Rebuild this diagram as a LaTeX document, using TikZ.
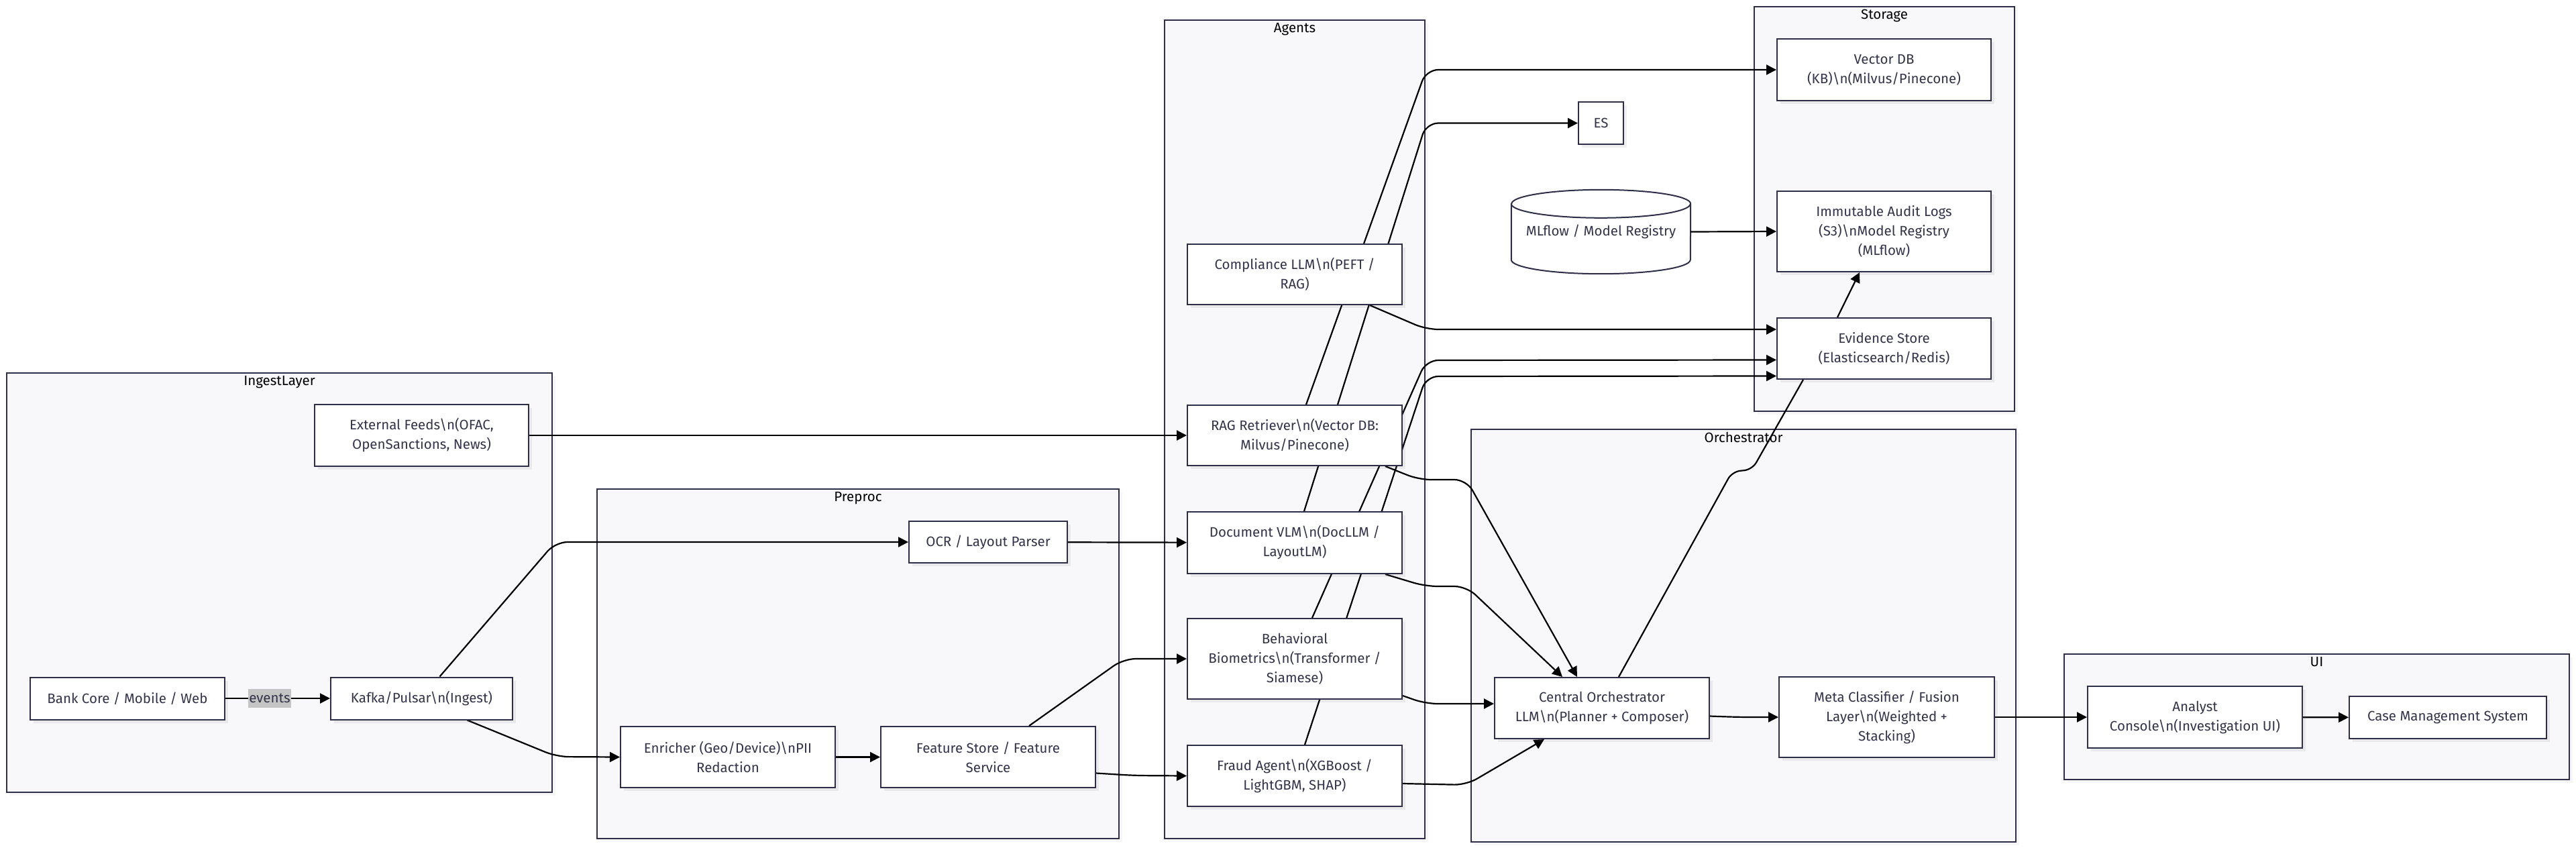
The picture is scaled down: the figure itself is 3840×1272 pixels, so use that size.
\documentclass[tikz,border=0pt]{standalone}
\usepackage{fontspec}
\setmainfont{Fira Sans}
\usetikzlibrary{positioning,arrows.meta,shadows}

\definecolor{navy}{HTML}{2E2E48}
\definecolor{ink}{HTML}{33334A}
\definecolor{clusterbg}{HTML}{F8F8FB}
\definecolor{labelbg}{HTML}{C4C4C4}

\newcommand{\bsn}{\textbackslash n}
\newcommand{\diagfont}{\fontsize{20.5}{29}\selectfont}

\pgfdeclarelayer{clusters}
\pgfdeclarelayer{edges}
\pgfsetlayers{clusters,edges,main}

\begin{document}
\begin{tikzpicture}[x=1pt, y=-1pt,
    % Node styles
    block/.style={rectangle, draw=navy, fill=white, line width=2pt,
                  text=ink, align=center, font=\diagfont, inner sep=2pt,
                  drop shadow={shadow xshift=5pt, shadow yshift=-5pt,
                               fill=black!60, opacity=0.10}},
    cluster/.style={rectangle, draw=navy, fill=clusterbg, line width=2pt,
                    inner sep=0pt,
                    drop shadow={shadow xshift=5pt, shadow yshift=-5pt,
                                 fill=black!60, opacity=0.06}},
    clustertitle/.style={font=\diagfont, text=black, inner sep=0pt},
    arrow/.style={line width=2.2pt, black, rounded corners=18pt,
                  -{Triangle[length=15pt,width=15pt]}},
    link/.style={line width=2.2pt, black, rounded corners=12pt},
    edgelabel/.style={rectangle, fill=labelbg, text=ink, font=\diagfont,
                      inner sep=0pt, minimum width=64pt, minimum height=28pt}
]

\useasboundingbox (0,0) rectangle (3840,1272);

% Clusters
\begin{pgfonlayer}{clusters}
\fill[white] (0,0) rectangle (3840,1272);
\node[cluster, minimum width=813pt, minimum height=625pt] (ingest) at (416.5,868.5) {};
\node[clustertitle, below=5pt of ingest.north] (ingesttitle) {IngestLayer};
\node[cluster, minimum width=778pt, minimum height=521pt] (preproc) at (1279,989.5) {};
\node[clustertitle, below=5pt of preproc.north] (preproctitle) {Preproc};
\node[cluster, minimum width=388pt, minimum height=1220pt] (agents) at (1930,640) {};
\node[clustertitle, below=5pt of agents.north] (agentstitle) {Agents};
\node[cluster, minimum width=388pt, minimum height=603pt] (storage) at (2809,311.5) {};
\node[clustertitle, below=5pt of storage.north] (storagetitle) {Storage};
\node[cluster, minimum width=812pt, minimum height=615pt] (orch) at (2599,947.5) {};
\node[clustertitle, below=5pt of orch.north] (orchtitle) {Orchestrator};
\node[cluster, minimum width=753pt, minimum height=187pt] (ui) at (3453.5,1068.5) {};
\node[clustertitle, below=5pt of ui.north] (uititle) {UI};
\end{pgfonlayer}

% 1. Ingest
\node[block, minimum width=319pt, minimum height=92pt] (ext) at (628.5,649) {
    External Feeds\bsn(OFAC,\\OpenSanctions, News)};
\node[block, minimum width=290pt, minimum height=63pt] (bank) at (190,1041) {
    Bank Core / Mobile / Web};
\node[block, minimum width=271pt, minimum height=63pt] (kafka) at (628.5,1041) {
    Kafka/Pulsar\bsn(Ingest)};

% 2. Preprocessing
\node[block, minimum width=236pt, minimum height=62pt] (ocr) at (1473,808) {
    OCR / Layout Parser};
\node[block, minimum width=320pt, minimum height=91pt] (enr) at (1085,1128.5) {
    Enricher (Geo/Device)\bsn PII\\Redaction};
\node[block, minimum width=320pt, minimum height=91pt] (feat) at (1473,1128.5) {
    Feature Store / Feature\\Service};

% 3. Agents
\node[block, minimum width=320pt, minimum height=90pt] (comp) at (1930,409) {
    Compliance LLM\bsn(PEFT /\\RAG)};
\node[block, minimum width=320pt, minimum height=90pt] (rag) at (1930,649) {
    RAG Retriever\bsn(Vector DB:\\Milvus/Pinecone)};
\node[block, minimum width=320pt, minimum height=92pt] (doc) at (1930,809) {
    Document VLM\bsn(DocLLM /\\LayoutLM)};
\node[block, minimum width=320pt, minimum height=120pt] (beh) at (1930,982) {
    Behavioral\\Biometrics\bsn(Transformer /\\Siamese)};
\node[block, minimum width=320pt, minimum height=91pt] (fraud) at (1930,1156.5) {
    Fraud Agent\bsn(XGBoost /\\LightGBM, SHAP)};

% 4. Storage
\node[block, minimum width=319pt, minimum height=92pt] (vdb) at (2808.5,104) {
    Vector DB\\(KB)\bsn(Milvus/Pinecone)};
\node[block, minimum width=67pt, minimum height=63pt] (es) at (2386.5,183.5) {ES};
\node[minimum width=267pt, minimum height=125pt, inner sep=0pt, text=ink,
      font=\diagfont] (mlflow) at (2386.5,345.5) {\raisebox{-10pt}{MLflow / Model Registry}};
\node[block, minimum width=319pt, minimum height=120pt] (audit) at (2808.5,345) {
    Immutable Audit Logs\\(S3)\bsn Model Registry\\(MLflow)};
\node[block, minimum width=319pt, minimum height=91pt] (evid) at (2808.5,519.5) {
    Evidence Store\\(Elasticsearch/Redis)};

% MLflow cylinder
\begin{pgfonlayer}{edges}
\fill[black!60, opacity=0.08, xshift=5pt, yshift=-5pt]
    ([yshift=-21pt]mlflow.north west) -- ([yshift=21pt]mlflow.south west)
    arc[start angle=180, end angle=360, x radius=133.5pt, y radius=21pt]
    -- ([yshift=-21pt]mlflow.north east)
    arc[start angle=0, end angle=180, x radius=133.5pt, y radius=21pt] -- cycle;
\draw[draw=navy, fill=white, line width=2pt]
    ([yshift=-21pt]mlflow.north west) -- ([yshift=21pt]mlflow.south west)
    arc[start angle=180, end angle=360, x radius=133.5pt, y radius=21pt]
    -- ([yshift=-21pt]mlflow.north east)
    arc[start angle=0, end angle=180, x radius=133.5pt, y radius=21pt] -- cycle;
\draw[draw=navy, line width=2pt] ([yshift=-21pt]mlflow.north west)
    arc[start angle=180, end angle=360, x radius=133.5pt, y radius=21pt];
\end{pgfonlayer}

% 5. Orchestrator
\node[block, minimum width=320pt, minimum height=91pt] (central) at (2388,1055.5) {
    Central Orchestrator\\LLM\bsn(Planner + Composer)};
\node[block, minimum width=321pt, minimum height=120pt] (meta) at (2812.5,1069) {
    Meta Classifier / Fusion\\Layer\bsn(Weighted +\\Stacking)};

% 6. UI
\node[block, minimum width=320pt, minimum height=92pt] (analyst) at (3272,1069) {
    Analyst\\Console\bsn(Investigation UI)};
\node[block, minimum width=294pt, minimum height=63pt] (case) at (3649,1069.5) {
    Case Management System};

\begin{pgfonlayer}{edges}
% Ingest and preprocessing flow
\draw[arrow] (bank) -- (kafka);
\end{pgfonlayer}
\node[edgelabel] (eventslabel) at (402,1041) {events};
\begin{pgfonlayer}{edges}
\draw[arrow] ([xshift=27pt]kafka.north) -- (828,808) -- (ocr.west);
\draw[arrow] ([xshift=68pt]kafka.south) -- (830,1128) -- (enr.west);
\draw[arrow] (enr) -- (feat);
\draw[arrow] ([xshift=61pt]feat.north) -- (1675,982) -- (beh.west);
\draw[arrow] ([yshift=-24pt]feat.east) -- (1690,1156) -- (fraud.west);
\draw[arrow] (ocr) -- (doc);
\draw[arrow] (ext) -- (rag);

% Agents into storage
\draw[arrow] ([xshift=17pt]rag.north) -- (2126,104) -- (vdb.west);
\draw[arrow] ([xshift=14pt]doc.north) -- (2126,183.5) -- (es.west);
\draw[arrow] ([xshift=112pt]comp.south) -- (2126,491) -- ([yshift=28.5pt]evid.west);
\draw[arrow] ([xshift=26pt]beh.north) -- (2126,537) -- ([yshift=-17pt]evid.west);
\draw[arrow] ([xshift=15pt]fraud.north) -- (2126,561) -- ([yshift=-41pt]evid.west);
\draw[arrow] ([xshift=-69.5pt]evid.north) -- ([xshift=-36.5pt]audit.south);
\draw[arrow] (mlflow.east) -- (audit.west);

% Agents into the orchestrator
\draw[arrow] ([xshift=-26pt]rag.south east) -- (2115,715) -- (2186,715) -- ([xshift=-37pt]central.north);
\draw[arrow] ([xshift=-26pt]doc.south east) -- (2125,874) -- (2186,874) -- ([xshift=-59pt]central.north);
\draw[arrow] ([yshift=-55pt]beh.east) -- (2125,1049) -- ([yshift=6.5pt]central.west);
\draw[arrow] ([yshift=-11.5pt]fraud.east) -- (2186,1170) -- ([xshift=-86pt]central.south);
\draw[link] ([xshift=25pt]central.north) -- (2582,703) -- (2612,700) -- ([xshift=-120.5pt]evid.south);

% Continue main flow
\draw[arrow] ([yshift=-12pt]central.east) -- (2592,1069) -- (meta.west);
\draw[arrow] (meta) -- (analyst);
\draw[arrow] (analyst) -- (case);
\end{pgfonlayer}

\end{tikzpicture}
\end{document}
